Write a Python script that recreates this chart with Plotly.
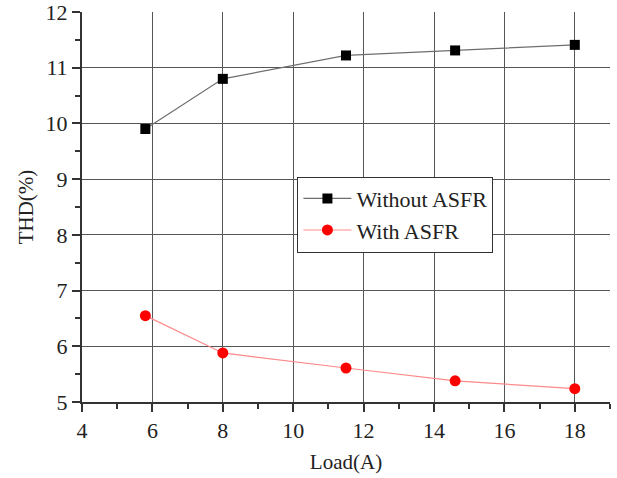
import plotly.graph_objects as go

load = [5.8, 8, 11.5, 14.6, 18]
thd_without = [9.9, 10.8, 11.22, 11.31, 11.41]
thd_with = [6.55, 5.88, 5.61, 5.38, 5.24]

font = "Liberation Serif, Times New Roman, serif"

fig = go.Figure()
fig.add_trace(go.Scatter(
    x=load, y=thd_without, name="Without ASFR", mode="lines+markers",
    line=dict(color="#6e6e6e", width=1.2),
    marker=dict(symbol="square", size=10, color="black"),
))
fig.add_trace(go.Scatter(
    x=load, y=thd_with, name="With ASFR", mode="lines+markers",
    line=dict(color="#ff8a8a", width=1.2),
    marker=dict(symbol="circle", size=11, color="red"),
))

axis_common = dict(
    showline=True, linecolor="#333", linewidth=2,
    ticks="outside", ticklen=8, tickwidth=2, tickcolor="#333",
    showgrid=True, gridcolor="#555", gridwidth=1,
    zeroline=False, mirror=False, automargin=False,
    ticklabeloverflow="allow",
    tickfont=dict(family=font, size=22, color="#222"),
)

fig.update_layout(
    width=617, height=478,
    margin=dict(l=82, r=7, t=12, b=76),
    paper_bgcolor="white", plot_bgcolor="white",
    font=dict(family=font, size=21, color="#222"),
    xaxis=dict(range=[4, 19], dtick=2, tick0=4,
               title=dict(text="Load(A)", font=dict(family=font, size=21), standoff=12),
               minor=dict(ticks="outside", dtick=1, ticklen=5, tickwidth=2, tickcolor="#333", showgrid=False),
               **axis_common),
    yaxis=dict(range=[5, 12], dtick=1,
               title=dict(text="THD(%)", font=dict(family=font, size=21), standoff=6),
               minor=dict(ticks="outside", dtick=0.5, ticklen=5, tickwidth=2, tickcolor="#333", showgrid=False),
               **axis_common),
    legend=dict(x=0.408, y=0.578, xanchor="left", yanchor="top",
                bgcolor="white", bordercolor="#333", borderwidth=1,
                font=dict(family=font, size=22, color="#222"),
                tracegroupgap=0, itemwidth=48),
    showlegend=True,
)

fig.write_html("out.html", config={"displayModeBar": False},
               post_script="document.body.style.margin='0';")
